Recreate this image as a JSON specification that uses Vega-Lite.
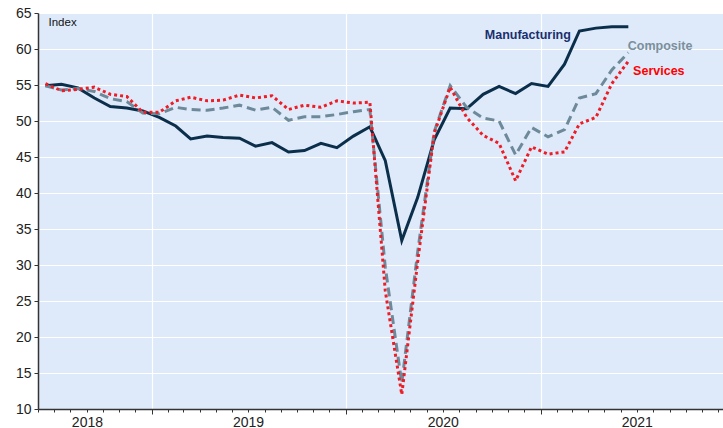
{
  "$schema": "https://vega.github.io/schema/vega-lite/v6.json",
  "autosize": "none",
  "width": 685,
  "height": 396,
  "padding": {"left": 38, "top": 13, "right": 0, "bottom": 19},
  "background": "white",
  "config": {
    "view": {"fill": "#DEEAFA", "stroke": null},
    "font": "Liberation Sans",
    "axis": {"labelFont": "Liberation Sans", "titleFont": "Liberation Sans"}
  },
  "datasets": {
    "pmi": [
      {"date": "2018-06-15", "manufacturing": 54.9, "composite": 54.9, "services": 55.2},
      {"date": "2018-07-15", "manufacturing": 55.1, "composite": 54.3, "services": 54.2},
      {"date": "2018-08-15", "manufacturing": 54.6, "composite": 54.5, "services": 54.4},
      {"date": "2018-09-15", "manufacturing": 53.2, "composite": 54.1, "services": 54.7},
      {"date": "2018-10-15", "manufacturing": 52.0, "composite": 53.1, "services": 53.7},
      {"date": "2018-11-15", "manufacturing": 51.8, "composite": 52.7, "services": 53.4},
      {"date": "2018-12-15", "manufacturing": 51.4, "composite": 51.1, "services": 51.2},
      {"date": "2019-01-15", "manufacturing": 50.5, "composite": 51.0, "services": 51.2},
      {"date": "2019-02-15", "manufacturing": 49.3, "composite": 51.9, "services": 52.8},
      {"date": "2019-03-15", "manufacturing": 47.5, "composite": 51.6, "services": 53.3},
      {"date": "2019-04-15", "manufacturing": 47.9, "composite": 51.5, "services": 52.8},
      {"date": "2019-05-15", "manufacturing": 47.7, "composite": 51.8, "services": 52.9},
      {"date": "2019-06-15", "manufacturing": 47.6, "composite": 52.2, "services": 53.6},
      {"date": "2019-07-15", "manufacturing": 46.5, "composite": 51.5, "services": 53.2},
      {"date": "2019-08-15", "manufacturing": 47.0, "composite": 51.9, "services": 53.5},
      {"date": "2019-09-15", "manufacturing": 45.7, "composite": 50.1, "services": 51.6},
      {"date": "2019-10-15", "manufacturing": 45.9, "composite": 50.6, "services": 52.2},
      {"date": "2019-11-15", "manufacturing": 46.9, "composite": 50.6, "services": 51.9},
      {"date": "2019-12-15", "manufacturing": 46.3, "composite": 50.9, "services": 52.8},
      {"date": "2020-01-15", "manufacturing": 47.9, "composite": 51.3, "services": 52.5},
      {"date": "2020-02-15", "manufacturing": 49.2, "composite": 51.6, "services": 52.6},
      {"date": "2020-03-15", "manufacturing": 44.5, "composite": 29.7, "services": 26.4},
      {"date": "2020-04-15", "manufacturing": 33.4, "composite": 13.6, "services": 12.0},
      {"date": "2020-05-15", "manufacturing": 39.4, "composite": 31.9, "services": 30.5},
      {"date": "2020-06-15", "manufacturing": 47.4, "composite": 48.5, "services": 48.3},
      {"date": "2020-07-15", "manufacturing": 51.8, "composite": 54.9, "services": 54.7},
      {"date": "2020-08-15", "manufacturing": 51.7, "composite": 51.9, "services": 50.5},
      {"date": "2020-09-15", "manufacturing": 53.7, "composite": 50.4, "services": 48.0},
      {"date": "2020-10-15", "manufacturing": 54.8, "composite": 50.0, "services": 46.9},
      {"date": "2020-11-15", "manufacturing": 53.8, "composite": 45.3, "services": 41.7},
      {"date": "2020-12-15", "manufacturing": 55.2, "composite": 49.1, "services": 46.4},
      {"date": "2021-01-15", "manufacturing": 54.8, "composite": 47.8, "services": 45.4},
      {"date": "2021-02-15", "manufacturing": 57.9, "composite": 48.8, "services": 45.7},
      {"date": "2021-03-15", "manufacturing": 62.5, "composite": 53.2, "services": 49.6},
      {"date": "2021-04-15", "manufacturing": 62.9, "composite": 53.8, "services": 50.5},
      {"date": "2021-05-15", "manufacturing": 63.1, "composite": 57.1, "services": 55.2},
      {"date": "2021-06-15", "manufacturing": 63.1, "composite": 59.5, "services": 58.3}
    ],
    "labels": [
      {"label": "Manufacturing", "date": "2021-02-27", "value": 62.0, "series": "m"},
      {"label": "Composite", "date": "2021-06-14", "value": 60.45, "series": "c"},
      {"label": "Services", "date": "2021-06-24", "value": 57.0, "series": "s"}
    ]
  },
  "encoding": {
    "x": {
      "field": "date", "type": "temporal",
      "scale": {"type": "utc", "domain": [{"year": 2018, "month": 6, "date": 1, "utc": true}, {"year": 2021, "month": 12, "date": 10, "utc": true}]},
      "axis": {
        "title": null,
        "tickCount": {"interval": "month", "step": 1},
        "domainColor": "#333333",
        "domainWidth": 1.5,
        "tickColor": "#333333",
        "tickWidth": 1,
        "tickSize": {"condition": {"test": "utcmonth(datum.value) === 0", "value": 5}, "value": 3},
        "grid": true,
        "gridColor": "#FFFFFF",
        "gridWidth": 1.2,
        "gridOpacity": {"condition": {"test": "utcmonth(datum.value) === 0", "value": 1}, "value": 0},
        "labelExpr": "((utcmonth(datum.value) == 6 && utcyear(datum.value) > 2018) || (utcyear(datum.value) == 2018 && utcmonth(datum.value) == 8)) ? utcFormat(datum.value, '%Y') : ''",
        "labelOverlap": false,
        "labelFlush": false,
        "labelBound": false,
        "labelFontSize": 14,
        "labelColor": "#222222",
        "labelPadding": 3
      }
    },
    "y": {
      "field": "value", "type": "quantitative",
      "scale": {"domain": [10, 65], "nice": false, "zero": false},
      "axis": {
        "values": [10, 15, 20, 25, 30, 35, 40, 45, 50, 55, 60, 65],
        "labelOverlap": false,
        "labelFlush": false,
        "labelBound": false,
        "title": "Index",
        "titleAngle": 0,
        "titleAlign": "left",
        "titleBaseline": "middle",
        "titleX": 10,
        "titleY": 9,
        "titleFontSize": 11.5,
        "titleFontWeight": "normal",
        "titleColor": "#111111",
        "domainColor": "#333333",
        "domainWidth": 1.5,
        "tickColor": "#333333",
        "tickSize": 4,
        "grid": true,
        "gridColor": "#FFFFFF",
        "gridWidth": 1.2,
        "labelFontSize": 14,
        "labelColor": "#222222",
        "labelPadding": 3
      }
    }
  },
  "layer": [
    {
      "data": {"name": "pmi"},
      "transform": [{"fold": ["manufacturing"], "as": ["series", "value"]}],
      "mark": {"type": "line", "color": "#0B2F4A", "strokeWidth": 3, "clip": true}
    },
    {
      "data": {"name": "pmi"},
      "transform": [{"fold": ["composite"], "as": ["series", "value"]}],
      "mark": {"type": "line", "color": "#6E8A9A", "strokeWidth": 3, "strokeDash": [9, 5], "clip": true}
    },
    {
      "data": {"name": "pmi"},
      "transform": [{"fold": ["services"], "as": ["series", "value"]}],
      "mark": {"type": "line", "color": "#EE1C25", "strokeWidth": 3, "strokeDash": [3, 3], "clip": true}
    },
    {
      "data": {"name": "labels"},
      "transform": [{"filter": "datum.series === 'm'"}],
      "mark": {"type": "text", "fontWeight": "bold", "fontSize": 12.5, "baseline": "middle", "align": "right", "color": "#1B2F6E"},
      "encoding": {
        "text": {"field": "label"}
      }
    },
    {
      "data": {"name": "labels"},
      "transform": [{"filter": "datum.series !== 'm'"}],
      "mark": {"type": "text", "fontWeight": "bold", "fontSize": 12.5, "baseline": "middle", "align": "left"},
      "encoding": {
        "text": {"field": "label"},
        "color": {"field": "series", "type": "nominal", "scale": {"domain": ["c", "s"], "range": ["#7B8F9C", "#FF0000"]}, "legend": null}
      }
    }
  ]
}
